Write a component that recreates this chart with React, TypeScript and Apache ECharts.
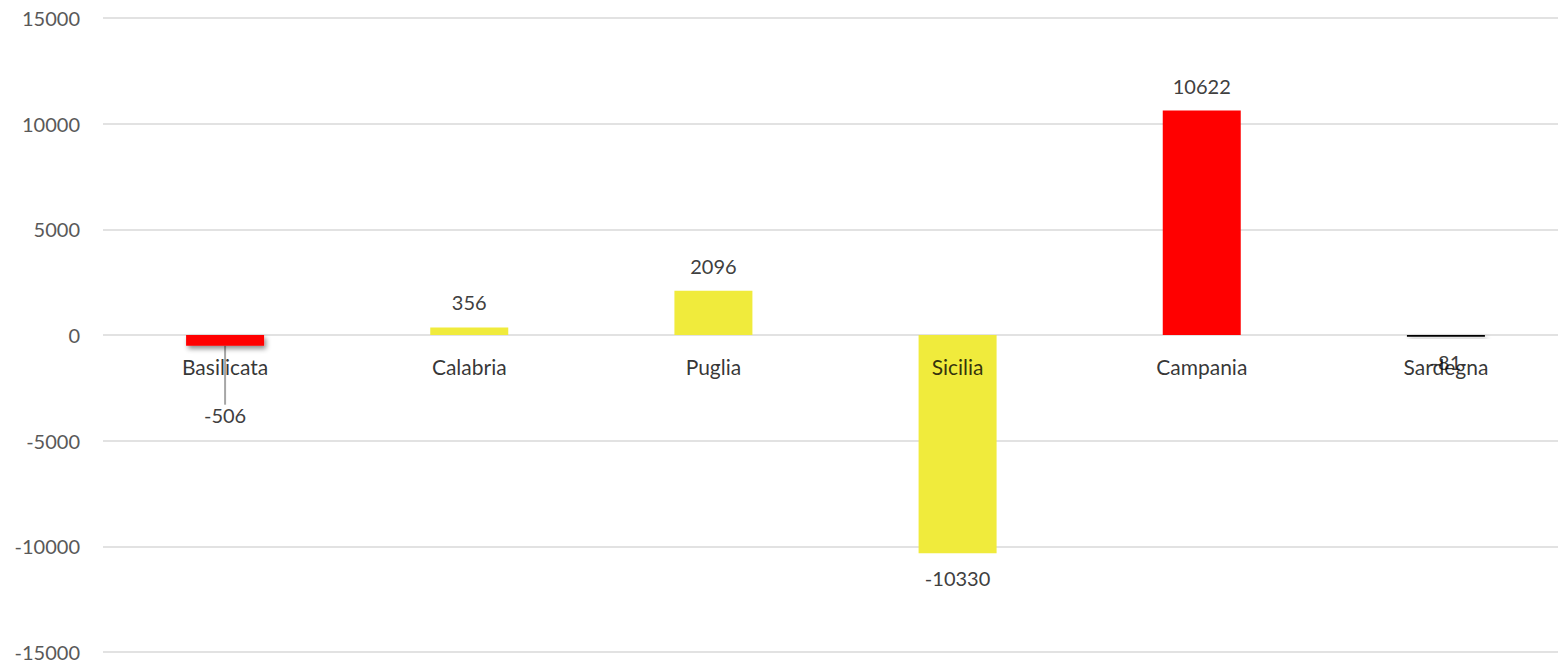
import React, { useEffect, useRef } from "react";
import * as echarts from "echarts";

const categories = ["Basilicata", "Calabria", "Puglia", "Sicilia", "Campania", "Sardegna"];
const values = [-506, 356, 2096, -10330, 10622, -81];
const barColors = ["#FF0000", "#F0EB3C", "#F0EB3C", "#F0EB3C", "#FF0000", "#000000"];
const shadowed = [true, false, false, false, false, true];
const yTicks = { min: -15000, max: 15000, interval: 5000 };

export default function App() {
  const ref = useRef<HTMLDivElement>(null);
  useEffect(() => {
    if (!ref.current) return;
    const chart = echarts.init(ref.current, null, { renderer: "svg" });
    const font = "Lato, 'Open Sans', sans-serif";
    chart.setOption({
      animation: false,
      textStyle: { fontFamily: font },
      grid: { left: 103, right: -10, top: 18, bottom: 9, containLabel: false, outerBoundsMode: "none" },
      xAxis: {
        type: "category",
        data: categories,
        axisLine: { show: false },
        axisTick: { show: false },
        axisLabel: { show: false },
      },
      yAxis: {
        type: "value",
        min: yTicks.min,
        max: yTicks.max,
        interval: yTicks.interval,
        axisLine: { show: false },
        axisTick: { show: false },
        axisLabel: {
          color: "#595959",
          fontSize: 20,
          fontFamily: font,
          margin: 23,
          formatter: (v: number) => String(v),
        },
        splitLine: { lineStyle: { color: "#D9D9D9", width: 1.5 } },
      },
      series: [
        {
          type: "bar",
          barWidth: 78,
          data: values.map((v, i) => ({
            value: v,
            itemStyle: {
              color: barColors[i],
              shadowBlur: shadowed[i] ? 5 : 0,
              shadowOffsetY: shadowed[i] ? 3 : 0,
              shadowOffsetX: shadowed[i] ? 2 : 0,
              shadowColor: shadowed[i] ? "rgba(0,0,0,0.45)" : "transparent",
            },
            label: {
              position: v >= 0 ? "top" : "bottom",
              distance: 15,
            },
            labelLine: { show: i === 0 },
          })),
          label: {
            show: true,
            color: "#404040",
            fontSize: 20,
            fontFamily: font,
          },
          labelLayout: (p: any) => (p.dataIndex === 0 ? { dy: 44 } : {}),
          labelLine: { show: false, lineStyle: { color: "#A6A6A6", width: 2 }, length2: 0, smooth: false },
        },
        {
          type: "scatter",
          symbolSize: 0,
          silent: true,
          data: categories.map((c) => ({ name: c, value: [c, 0] })),
          label: {
            show: true,
            position: "bottom",
            distance: 21,
            color: "#000",
            fontSize: 21,
            fontFamily: font,
            formatter: (p: any) => p.name,
          },
          z: 5,
        },
      ],
    });
    return () => chart.dispose();
  }, []);
  return (
    <div
      ref={ref}
      style={{ position: "fixed", left: 0, top: 0, width: 1558, height: 661, background: "#fff" }}
    />
  );
}
